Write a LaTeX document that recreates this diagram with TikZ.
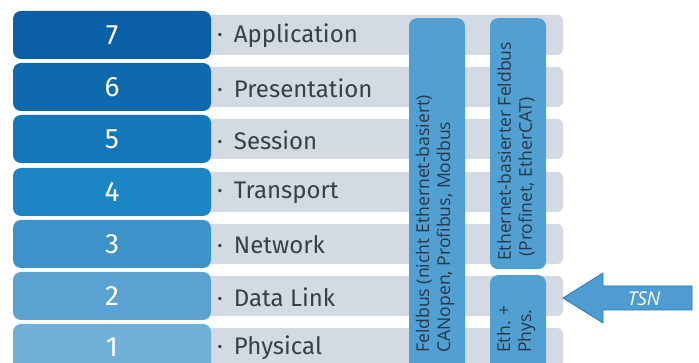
\documentclass[tikz,border=0pt]{standalone}
\usepackage{fontspec}
\setmainfont{Fira Sans}
\newfontfamily\colfont{Open Sans}
\definecolor{c7}{HTML}{0B5FA5}
\definecolor{c6}{HTML}{0F69AE}
\definecolor{c5}{HTML}{1576B9}
\definecolor{c4}{HTML}{1C86C5}
\definecolor{c3}{HTML}{3D92CA}
\definecolor{c2}{HTML}{5BA2D3}
\definecolor{c1}{HTML}{72B0DA}
\definecolor{barcol}{HTML}{D4DAE4}
\definecolor{colblue}{HTML}{52A0D2}
\definecolor{labtext}{HTML}{3A3F45}
\definecolor{coltext}{HTML}{26384A}
\definecolor{arrfill}{HTML}{4F9CD2}
\definecolor{arrline}{HTML}{2A78B5}
\begin{document}
\begin{tikzpicture}[x=1pt,y=-1pt,
  numbox/.style={fill=#1, rounded corners=8pt, minimum width=198pt, minimum height=48pt,
    inner sep=0pt, text=white, font=\fontsize{28}{30}\selectfont},
  numtxt/.style={inner sep=0pt, text=white, font=\fontsize{28}{30}\selectfont},
  graybar/.style={fill=barcol, rounded corners=6pt},
  lab/.style={anchor=west, inner sep=0pt, text=labtext, font=\fontsize{24}{26}\selectfont},
  colbox/.style={fill=colblue, rounded corners=8pt, minimum width=56pt, inner sep=0pt, anchor=north},
  coltxt/.style={rotate=90, anchor=west, inner sep=0pt, align=left, text=coltext,
    font=\colfont\fontsize{17.6}{21}\selectfont}]
\useasboundingbox (0,0) rectangle (699,363);
\clip (0,0) rectangle (699,363);
\fill[white] (0,0) rectangle (699,363);
% gray bars
\foreach \t in {11,63,115,168,220,272,324}{
  \fill[graybar] (200,\t+4) rectangle (563,\t+44);
}
% number boxes
\node[numbox=c7] (n7) at (112,35) {7};
\node[numbox=c6] (n6) at (112,87) {6};
\node[numbox=c5] (n5) at (112,139) {5};
\node[numbox=c4] (n4) at (112,192) {4};
\node[numbox=c3] (n3) at (112,244) {3};
\node[numbox=c2] (n2) at (112,296) {2};
\fill[c1, rounded corners=8pt] (13,324) rectangle (211,390);
\node[numtxt] (n1) at (112,347) {1};
% labels
\node[lab] (l7) at (217,36) {·\hspace{11pt}Application};
\node[lab] (l6) at (217,88) {·\hspace{11pt}Presentation};
\node[lab] (l5) at (217,140) {·\hspace{11pt}Session};
\node[lab] (l4) at (217,193) {·\hspace{11pt}Transport};
\node[lab] (l3) at (217,245) {·\hspace{11pt}Network};
\node[lab] (l2) at (217,297) {·\hspace{11pt}Data Link};
\node[lab] (l1) at (217,348) {·\hspace{11pt}Physical};
% columns
\node[colbox, minimum height=380pt] (fb) at (437,18) {};
\node[colbox, minimum height=251pt] (eb) at (518,18) {};
\node[colbox, minimum height=120pt] (ep) at (518,275) {};
\node[coltxt] (fbt) at (435,353) {Feldbus (nicht Ethernet-basiert)\\CANopen, Profibus, Modbus};
\node[coltxt] (ebt) at (516,261) {Ethernet-basierter Feldbus\\\hspace{4pt}(Profinet, EtherCAT)};
\node[coltxt] (ept) at (516,353) {Eth. +\\Phys.};
% TSN arrow
\filldraw[fill=arrfill, draw=arrline, line width=0.8pt, line join=miter]
  (563,298) -- (603,273) -- (603,286) -- (692,286) -- (692,310) -- (603,310) -- (603,323) -- cycle;
\node[text=white, inner sep=0pt, font=\colfont\itshape\fontsize{19}{21}\selectfont] (tsn) at (644,299) {TSN};
\end{tikzpicture}
\end{document}
